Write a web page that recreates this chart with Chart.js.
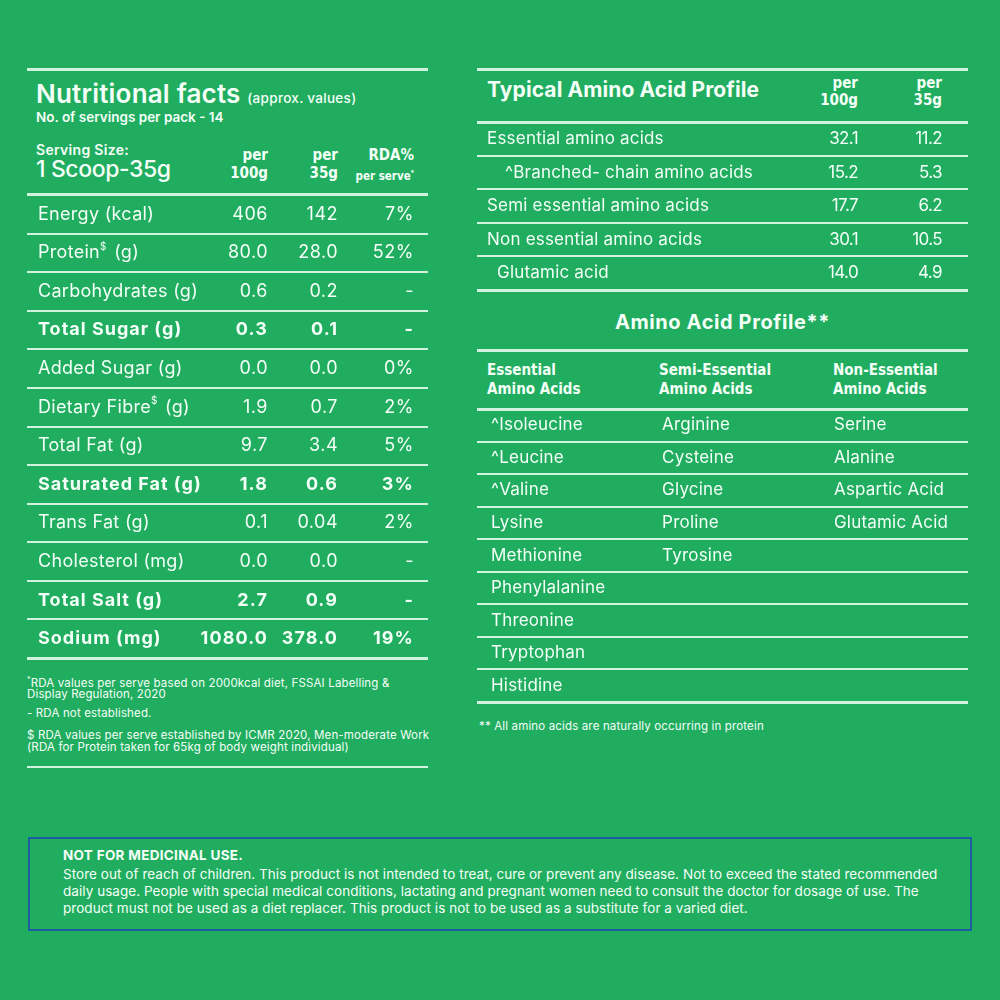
<!DOCTYPE html>
<html lang="en">

<head>
    <meta charset="UTF-8">
    <title>Nutritional facts</title>
    <style>
        html, body { margin: 0; padding: 0; }
        body { width: 1000px; height: 1000px; background: #21ad5f; position: relative; overflow: hidden;
               font-family: 'Inter', 'Open Sans', sans-serif; color: #f4fff8; }
        .abs { position: absolute; white-space: nowrap; }
        .rule { position: absolute; background: #d2f4de; }
        .cond { font-family: 'Liberation Sans Narrow', 'DejaVu Sans Condensed', sans-serif; font-weight: bold; }
        .note { font-size: 11.5px; line-height: 11.5px; letter-spacing: 0.15px; }
        .box { position: absolute; left: 28px; top: 837px; width: 940px; height: 90px; border: 2px solid #1f5c9c; }
        .chart { position: absolute; }
    </style>
</head>

<body>
    <!-- left header -->
    <div class="rule" style="left:27px; top:68px; width:401px; height:3px;"></div>
    <div class="abs" style="left:36px; top:81px; font-size:26px; font-weight:600; line-height:25px; letter-spacing:0.2px;">
        Nutritional facts <span style="font-size:13.5px; font-weight:500; letter-spacing:0.3px;">(approx. values)</span>
    </div>
    <div class="abs" style="left:36px; top:111px; font-size:13.5px; font-weight:600; line-height:13px;">No. of servings per pack - 14</div>
    <div class="abs" style="left:36px; top:143px; font-size:14px; font-weight:600; line-height:14px; letter-spacing:0.3px;">Serving Size:</div>
    <div class="abs" style="left:36px; top:158px; font-size:23px; font-weight:500; line-height:23px; letter-spacing:-0.4px;">1 Scoop-35g</div>
    <div class="abs cond" style="right:732px; top:146px; font-size:15px; line-height:18px; text-align:right;">per<br>100g</div>
    <div class="abs cond" style="right:662px; top:146px; font-size:15px; line-height:18px; text-align:right;">per<br>35g</div>
    <div class="abs cond" style="right:586px; top:146px; font-size:15px; line-height:18px; text-align:right;">RDA%<br><span style="font-size:11.5px;">per serve<sup style="font-size:7px;">*</sup></span></div>

    <!-- left footnotes -->
    <div class="abs note" style="left:27px; top:674px;"><sup style="font-size:7px;">*</sup>RDA values per serve based on 2000kcal diet, FSSAI Labelling &amp;<br>Display Regulation, 2020</div>
    <div class="abs note" style="left:27px; top:708px;">- RDA not established.</div>
    <div class="abs note" style="left:27px; top:730px;">$ RDA values per serve established by ICMR 2020, Men-moderate Work<br>(RDA for Protein taken for 65kg of body weight individual)</div>
    <div class="rule" style="left:27px; top:766px; width:401px; height:2px;"></div>

    <!-- right header -->
    <div class="rule" style="left:477px; top:68px; width:491px; height:3px;"></div>
    <div class="abs" style="left:487px; top:79px; font-size:21px; font-weight:700; line-height:21px; letter-spacing:0.1px;">Typical Amino Acid Profile</div>
    <div class="abs cond" style="right:142px; top:75px; font-size:15px; line-height:17px; text-align:right;">per<br>100g</div>
    <div class="abs cond" style="right:58px; top:75px; font-size:15px; line-height:17px; text-align:right;">per<br>35g</div>

    <div class="abs" style="left:477px; width:491px; top:312px; font-size:20px; font-weight:700; line-height:20px; text-align:center; letter-spacing:0.6px;">Amino Acid Profile**</div>
    <div class="rule" style="left:477px; top:349px; width:491px; height:3px;"></div>
    <div class="abs cond" style="left:487px; top:361px; font-size:15px; line-height:19px;">Essential<br>Amino Acids</div>
    <div class="abs cond" style="left:659px; top:361px; font-size:15px; line-height:19px;">Semi-Essential<br>Amino Acids</div>
    <div class="abs cond" style="left:833px; top:361px; font-size:15px; line-height:19px;">Non-Essential<br>Amino Acids</div>
    <div class="abs note" style="left:479px; top:721px;">** All amino acids are naturally occurring in protein</div>

    <!-- tables -->
    <div class="chart" style="left:27px; top:192px; width:401px; height:469px;"><canvas id="nutritionChart"></canvas></div>
    <div class="chart" style="left:477px; top:119px; width:491px; height:174px;"><canvas id="profileChart"></canvas></div>
    <div class="chart" style="left:477px; top:406px; width:491px; height:299px;"><canvas id="aminoChart"></canvas></div>

    <!-- warning box -->
    <div class="box"></div>
    <div class="abs" style="left:63px; top:849px; font-size:13.5px; font-weight:700; line-height:13px; letter-spacing:0.3px;">NOT FOR MEDICINAL USE.</div>
    <div class="abs" style="left:63px; top:866px; font-size:13.5px; line-height:17px; letter-spacing:0.05px;">Store out of reach of children. This product is not intended to treat, cure or prevent any disease. Not to exceed the stated recommended<br>daily usage. People with special medical conditions, lactating and pregnant women need to consult the doctor for dosage of use. The<br>product must not be used as a diet replacer. This product is not to be used as a substitute for a varied diet.</div>

    <script src="https://cdn.jsdelivr.net/npm/chart.js@4.4.1/dist/chart.umd.min.js"></script>

    <script>
        // nutrition table
        const nutrients = ['Energy (kcal)', 'Protein$ (g)', 'Carbohydrates (g)', 'Total Sugar (g)', 'Added Sugar (g)',
            'Dietary Fibre$ (g)', 'Total Fat (g)', 'Saturated Fat (g)', 'Trans Fat (g)', 'Cholesterol (mg)',
            'Total Salt (g)', 'Sodium (mg)'];
        const per100g = ['406', '80.0', '0.6', '0.3', '0.0', '1.9', '9.7', '1.8', '0.1', '0.0', '2.7', '1080.0'];
        const per35g = ['142', '28.0', '0.2', '0.1', '0.0', '0.7', '3.4', '0.6', '0.04', '0.0', '0.9', '378.0'];
        const rdaPerServe = ['7%', '52%', '-', '-', '0%', '2%', '5%', '3%', '2%', '-', '-', '19%'];
        const boldNutrients = ['Total Sugar (g)', 'Saturated Fat (g)', 'Total Salt (g)', 'Sodium (mg)'];

        // typical amino acid profile
        const aminoGroups = ['Essential amino acids', '^Branched- chain amino acids', 'Semi essential amino acids',
            'Non essential amino acids', 'Glutamic acid'];
        const aminoPer100g = [32.1, 15.2, 17.7, 30.1, 14.0];
        const aminoPer35g = [11.2, 5.3, 6.2, 10.5, 4.9];

        // amino acid profile
        const essentialAA = ['^Isoleucine', '^Leucine', '^Valine', 'Lysine', 'Methionine', 'Phenylalanine',
            'Threonine', 'Tryptophan', 'Histidine'];
        const semiEssentialAA = ['Arginine', 'Cysteine', 'Glycine', 'Proline', 'Tyrosine'];
        const nonEssentialAA = ['Serine', 'Alanine', 'Aspartic Acid', 'Glutamic Acid'];

        const textColor = '#f4fff8';
        const lineColor = '#d2f4de';
        const fontFamily = "'Inter', 'Open Sans', sans-serif";

        // draws label text, '$' becomes a small raised sign
        function drawCell(ctx, txt, x, y, size, weight, align) {
            ctx.font = weight + ' ' + size + 'px ' + fontFamily;
            ctx.textAlign = align;
            if (txt.indexOf('$') < 0) {
                ctx.fillText(txt, x, y);
                return;
            }
            const parts = txt.split('$');
            ctx.textAlign = 'left';
            ctx.fillText(parts[0], x, y);
            let px = x + ctx.measureText(parts[0]).width;
            ctx.font = weight + ' ' + Math.round(size * 0.55) + 'px ' + fontFamily;
            ctx.fillText('$', px, y - size * 0.32);
            px += ctx.measureText('$').width + 2;
            ctx.font = weight + ' ' + size + 'px ' + fontFamily;
            ctx.fillText(parts[1], px, y);
        }

        const cellText = {
            id: 'cellText',
            afterDatasetsDraw(chart) {
                const ctx = chart.ctx;
                chart.data.datasets.forEach(function (ds, i) {
                    const meta = chart.getDatasetMeta(i);
                    meta.data.forEach(function (pt, j) {
                        const bold = ds.isBold && ds.isBold(j);
                        ctx.save();
                        ctx.fillStyle = textColor;
                        ctx.textBaseline = 'middle';
                        ctx.letterSpacing = (bold ? ds.boldSpacing : ds.spacing || 0) + 'px';
                        const shift = ds.indent ? ds.indent[j] : 0;
                        drawCell(ctx, ds.texts[j], pt.x + shift, pt.y, ds.size, bold ? 700 : 400, ds.align);
                        ctx.restore();
                    });
                });
            }
        };

        function column(rows, texts, xPos, align, extra) {
            return Object.assign({
                data: rows.slice(0, texts.length).map(function (r) { return { x: xPos, y: r }; }),
                texts: texts,
                align: align,
                size: 17,
                pointRadius: 0
            }, extra);
        }

        function tableChart(id, rows, datasets) {
            return new Chart(document.getElementById(id), {
                type: 'scatter',
                data: { datasets: datasets },
                plugins: [cellText],
                options: {
                    responsive: true,
                    maintainAspectRatio: false,
                    animation: false,
                    events: [],
                    layout: { padding: { top: 3, bottom: 3, left: 0, right: 0 } },
                    plugins: { legend: { display: false }, tooltip: { enabled: false } },
                    scales: {
                        x: { type: 'linear', min: 0, max: 100, display: false },
                        y: {
                            type: 'category',
                            labels: rows,
                            offset: true,
                            border: { display: false },
                            ticks: { display: false },
                            grid: {
                                offset: true,
                                drawTicks: false,
                                color: lineColor,
                                lineWidth: function (c) { return (c.type !== 'tick' || c.index === 0) ? 3 : 2; }
                            }
                        }
                    }
                }
            });
        }

        const isBoldNutrient = function (j) { return boldNutrients.indexOf(nutrients[j]) >= 0; };
        const leftText = { isBold: isBoldNutrient, size: 18, spacing: 0.3, boldSpacing: 1.0 };
        const leftNums = { isBold: isBoldNutrient, size: 18, spacing: 0.5, boldSpacing: 1.1 };

        tableChart('nutritionChart', nutrients, [
            column(nutrients, nutrients, 2.74, 'left', leftText),
            column(nutrients, per100g, 60.1, 'right', leftNums),
            column(nutrients, per35g, 77.56, 'right', leftNums),
            column(nutrients, rdaPerServe, 96.5, 'right', leftNums)
        ]);

        tableChart('profileChart', aminoGroups, [
            column(aminoGroups, aminoGroups, 2.04, 'left', { indent: [0, 18, 0, 0, 10], spacing: 0.2 }),
            column(aminoGroups, aminoPer100g.map(function (v) { return v.toFixed(1); }), 77.6, 'right', { spacing: -0.6 }),
            column(aminoGroups, aminoPer35g.map(function (v) { return v.toFixed(1); }), 94.7, 'right', { spacing: -0.6 })
        ]);

        tableChart('aminoChart', essentialAA, [
            column(essentialAA, essentialAA, 2.85, 'left', { spacing: 0.2 }),
            column(essentialAA, semiEssentialAA, 37.7, 'left', { spacing: 0.2 }),
            column(essentialAA, nonEssentialAA, 72.7, 'left', { spacing: 0.2 })
        ]);
    </script>
</body>

</html>
